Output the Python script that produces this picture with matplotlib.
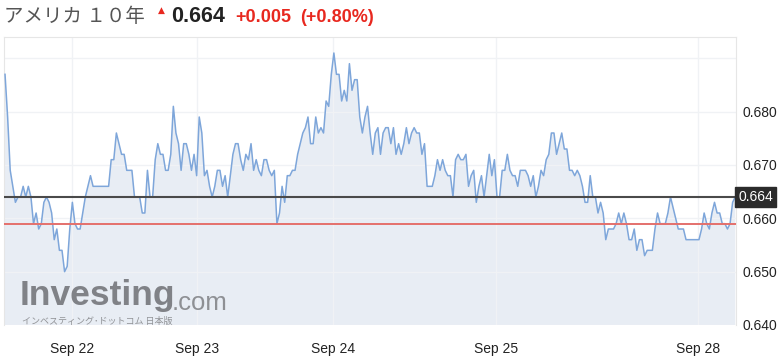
import numpy as np
import matplotlib.pyplot as plt
from matplotlib import transforms

# 10-year JGB-style yield, intraday samples
seg_sep21 = [0.687, 0.679, 0.669, 0.666, 0.663, 0.664, 0.664, 0.666, 0.664, 0.666,
             0.664, 0.659, 0.661, 0.658, 0.659, 0.663, 0.664, 0.663, 0.661, 0.656,
             0.658, 0.654, 0.654, 0.650, 0.651, 0.658, 0.663, 0.659, 0.658, 0.658,
             0.661, 0.664, 0.666, 0.668, 0.666, 0.666, 0.666, 0.666, 0.666, 0.666,
             0.666]
seg_sep22 = [0.671, 0.671, 0.676, 0.674, 0.672, 0.672, 0.669, 0.669, 0.669, 0.664,
             0.664, 0.664, 0.661, 0.661, 0.669, 0.664, 0.664, 0.671, 0.674, 0.672,
             0.672, 0.669, 0.669, 0.672, 0.681, 0.676, 0.674, 0.669, 0.674, 0.674,
             0.672, 0.669, 0.672, 0.668, 0.679, 0.676, 0.668, 0.669, 0.666, 0.664]
seg_sep23 = [0.666, 0.669, 0.669, 0.666, 0.668, 0.664, 0.668, 0.672, 0.674, 0.674,
             0.671, 0.669, 0.672, 0.671, 0.674, 0.669, 0.671, 0.669, 0.668, 0.671,
             0.671, 0.669, 0.668, 0.669, 0.659, 0.661, 0.666, 0.663, 0.668, 0.668,
             0.669, 0.669, 0.672, 0.674, 0.676, 0.677, 0.679, 0.674, 0.674, 0.679,
             0.676, 0.677, 0.676]
seg_sep24 = [0.682, 0.681, 0.687, 0.691, 0.687, 0.687, 0.682, 0.684, 0.682, 0.689,
             0.684, 0.686, 0.686, 0.679, 0.676, 0.679, 0.681, 0.676, 0.672, 0.676,
             0.677, 0.672, 0.676, 0.677, 0.677, 0.674, 0.677, 0.672, 0.674, 0.672,
             0.674, 0.677, 0.674, 0.676, 0.677, 0.676, 0.676, 0.672, 0.674]
seg_sep25a = [0.666, 0.666, 0.666, 0.668, 0.671, 0.669, 0.671, 0.669, 0.668, 0.668,
              0.664, 0.671, 0.672, 0.671, 0.671, 0.672, 0.666, 0.668, 0.669, 0.663,
              0.666, 0.668, 0.664, 0.668, 0.672, 0.668, 0.671, 0.664, 0.664, 0.669,
              0.669, 0.672, 0.669, 0.668, 0.668, 0.666, 0.669, 0.669, 0.669]
seg_sep25b = [0.668, 0.666, 0.668, 0.664, 0.666, 0.669, 0.668, 0.671, 0.672, 0.676,
              0.676, 0.672, 0.674, 0.676, 0.673, 0.673, 0.669, 0.669, 0.668, 0.669,
              0.668, 0.666, 0.663, 0.663, 0.668, 0.664, 0.664, 0.661, 0.663, 0.661,
              0.656, 0.658, 0.658, 0.658, 0.659, 0.661, 0.659, 0.661, 0.659, 0.656,
              0.656]
seg_sep28 = [0.658, 0.654, 0.656, 0.656, 0.653, 0.654, 0.654, 0.654, 0.658, 0.661,
             0.659, 0.659, 0.659, 0.661, 0.664, 0.662, 0.660, 0.658, 0.658, 0.658,
             0.656, 0.656, 0.656, 0.656, 0.656, 0.656, 0.658, 0.661, 0.659, 0.658,
             0.661, 0.663, 0.661, 0.661, 0.659, 0.659, 0.658, 0.659, 0.663, 0.664]

yields = seg_sep21 + seg_sep22 + seg_sep23 + seg_sep24 + seg_sep25a + seg_sep25b + seg_sep28

last_price = 0.664
prev_close = 0.659
change = "+0.005"
change_pct = "(+0.80%)"

date_ticks = [25.9, 74.1, 126.6, 189.6, 267.6]
date_labels = ["Sep 22", "Sep 23", "Sep 24", "Sep 25", "Sep 28"]
y_ticks = [0.640, 0.650, 0.660, 0.670, 0.680, 0.690]
y_labels = ["0.640", "0.650", "0.660", "0.670", "0.680", ""]

W, H = 781, 361
fig = plt.figure(figsize=(W / 100, H / 100), dpi=100)
ax = fig.add_axes([4 / W, 1 - 325 / H, 732 / W, 288 / H])

x = np.arange(len(yields))
ax.fill_between(x, yields, 0.6, color="#e8edf4", zorder=1, linewidth=0)
ax.plot(x, yields, color="#7ea6da", linewidth=1.1, zorder=3)
ax.axhline(last_price, color="#4a4a4a", linewidth=1.5, zorder=4)
ax.axhline(prev_close, color="#e4706c", linewidth=1.4, zorder=4)

ax.set_xlim(-0.4, 282.3)
ax.set_ylim(0.640, 0.6940)
ax.set_xticks(date_ticks)
ax.set_xticklabels(date_labels)
ax.set_yticks(y_ticks)
ax.set_yticklabels(y_labels)
ax.yaxis.tick_right()
ax.tick_params(axis="both", length=0, colors="#222222")
ax.tick_params(axis="x", labelsize=10, pad=12)
ax.tick_params(axis="y", labelsize=10, pad=5)
for lab in ax.get_xticklabels() + ax.get_yticklabels():
    lab.set_family("Liberation Sans")

ax.set_axisbelow("line")
ax.grid(True, color="#f0f2f5", linewidth=1)
for s in ax.spines.values():
    s.set_color("#e6e6e6")
ax.spines["bottom"].set_visible(False)

# current price tag on the right axis
trans = transforms.blended_transform_factory(ax.transAxes, ax.transData)
ax.text(1.003, last_price, f"{last_price:.3f}", transform=trans, ha="left", va="center",
        color="white", fontsize=10, family="Liberation Sans", zorder=6,
        bbox=dict(boxstyle="square,pad=0.2", fc="#2b2b2b", ec="#2b2b2b"))

# watermark
fig.text(20 / W, 1 - 305 / H, "Investing", fontsize=25.5, fontweight="bold",
         family="Liberation Sans", color="#808287", va="baseline", ha="left")
fig.text(172 / W, 1 - 309.5 / H, ".com", fontsize=18.5, family="Liberation Sans",
         color="#8e9094", va="baseline", ha="left")
fig.text(22 / W, 1 - 324 / H, "インベスティング･ドットコム 日本版", fontsize=6.5,
         family=["Noto Sans CJK JP", "DejaVu Sans"], color="#909296", va="baseline", ha="left")

# header
fig.text(4 / W, 1 - 17 / H, "アメリカ １０年", fontsize=14, color="#555555",
         family=["Noto Sans CJK JP", "DejaVu Sans"], va="center", ha="left")
fig.text(161 / W, 1 - 10 / H, "▲", fontsize=6.5, color="#e8281f", va="center", ha="center")
fig.text(171 / W, 1 - 17 / H, f"{last_price:.3f}", fontsize=15.5, fontweight="bold",
         color="#222222", family="Liberation Sans", va="center", ha="left")
fig.text(235 / W, 1 - 17 / H, change, fontsize=13, fontweight="bold", color="#e8281f",
         family="Liberation Sans", va="center", ha="left")
fig.text(300 / W, 1 - 17 / H, change_pct, fontsize=13, fontweight="bold", color="#e8281f",
         family="Liberation Sans", va="center", ha="left")

fig.savefig("out.png", dpi=100)
